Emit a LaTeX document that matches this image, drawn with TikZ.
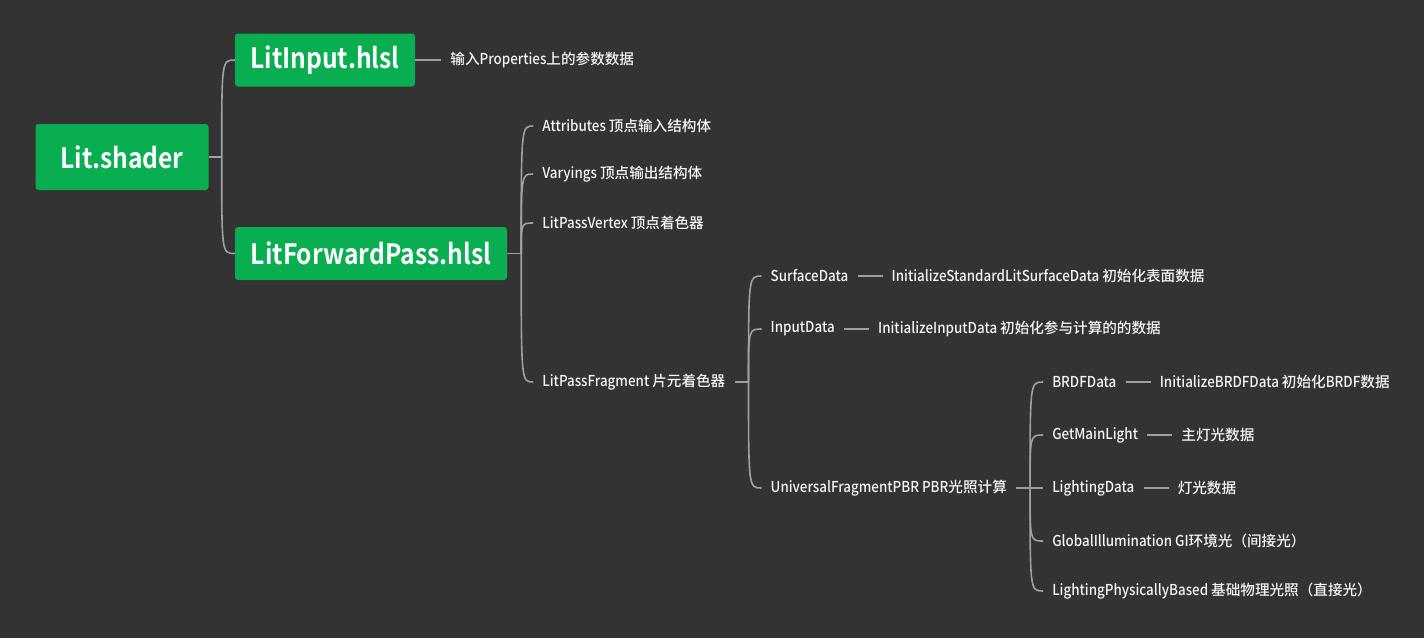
\documentclass[tikz,border=0pt]{standalone}
\usepackage{fontspec}
\setmainfont{Noto Sans CJK SC}[BoldFont={Noto Sans CJK SC Bold}]
\newfontfamily\mittel{Noto Sans CJK SC Medium}
\newfontfamily\latein{Noto Sans CJK SC Medium}[FakeStretch=0.89,Scale=1.03]
\newfontfamily\dick{Noto Sans CJK SC Bold}[FakeStretch=0.88]
\newcommand{\lati}[1]{{\latein #1}}
\usepackage{tikz}
\usetikzlibrary{positioning}
\definecolor{hintergrund}{RGB}{51,51,51}
\definecolor{gruen}{RGB}{8,174,80}
\definecolor{linie}{RGB}{160,160,160}
\definecolor{schrift}{RGB}{244,244,244}

\begin{document}
\begin{tikzpicture}[x=1pt,y=-1pt]
      \tikzset{
        datei/.style={rectangle, rounded corners=3pt, fill=gruen, text=white, inner sep=0pt,
                      minimum height=53pt, font=\fontsize{28}{32}\selectfont\dick},
        punkt/.style={text=schrift, inner xsep=9pt, inner ysep=2pt,
                      font=\fontsize{14.6}{17}\selectfont\mittel},
        ast/.style={draw=linie, line width=1.6pt}
      }

      \fill[hintergrund] (0,0) rectangle (1424,638);
      \useasboundingbox (0,0) rectangle (1424,638);

      % Dateien
      \node[datei, minimum width=173pt, minimum height=66pt] (shader) at (122,157) {Lit.shader};
      \node[datei, minimum width=180pt] (input) at (325,60) {LitInput.hlsl};
      \node[datei, minimum width=272pt] (forward) at (371,253.5) {LitForwardPass.hlsl};

      \node[punkt, right=26pt of input] (inputtext) {输入\lati{Properties}上的参数数据};

      % LitForwardPass
      \coordinate (gabel2) at ([xshift=14pt]forward.east);
      \path (gabel2) ++(12,0) coordinate (g2x);
      \node[punkt, anchor=west] (attr) at (g2x |- 0,126) {\lati{Attributes }顶点输入结构体};
      \node[punkt, anchor=west] (vary) at (g2x |- 0,174) {\lati{Varyings }顶点输出结构体};
      \node[punkt, anchor=west] (vertex) at (g2x |- 0,223) {\lati{LitPassVertex }顶点着色器};
      \node[punkt, anchor=west] (frag) at (g2x |- 0,382) {\lati{LitPassFragment }片元着色器};

      % LitPassFragment
      \coordinate (gabel3) at ([xshift=14pt]frag.east);
      \path (gabel3) ++(13,0) coordinate (g3x);
      \node[punkt, anchor=west] (surf) at (g3x |- 0,276) {\lati{SurfaceData}};
      \node[punkt, anchor=west] (inp) at (g3x |- 0,329) {\lati{InputData}};
      \node[punkt, anchor=west] (pbr) at (g3x |- 0,488) {\lati{UniversalFragmentPBR PBR}光照计算};

      \node[punkt, right=25pt of surf] (surftext) {\lati{InitializeStandardLitSurfaceData }初始化表面数据};
      \node[punkt, right=25pt of inp] (inptext) {\lati{InitializeInputData }初始化参与计算的的数据};

      % UniversalFragmentPBR
      \coordinate (gabel4) at ([xshift=14pt]pbr.east);
      \path (gabel4) ++(13,0) coordinate (g4x);
      \node[punkt, anchor=west] (brdf) at (g4x |- 0,382) {\lati{BRDFData}};
      \node[punkt, anchor=west] (mainlight) at (g4x |- 0,435) {\lati{GetMainLight}};
      \node[punkt, anchor=west] (lightdata) at (g4x |- 0,488) {\lati{LightingData}};
      \node[punkt, anchor=west] (gi) at (g4x |- 0,541) {\lati{GlobalIllumination GI}环境光（间接光）};
      \node[punkt, anchor=west] (physik) at (g4x |- 0,591) {\lati{LightingPhysicallyBased }基础物理光照（直接光）};

      \node[punkt, right=25pt of brdf] (brdftext) {\lati{InitializeBRDFData }初始化\lati{BRDF}数据};
      \node[punkt, right=25pt of mainlight] (mainlighttext) {主灯光数据};
      \node[punkt, right=25pt of lightdata] (lightdatatext) {灯光数据};

      % Aeste
      \coordinate (gabel1) at ([xshift=13pt]shader.east);
      \draw[ast] (shader.east) -- (gabel1);
      \foreach \kind in {input,forward}
        \draw[ast] (gabel1) .. controls (gabel1 |- \kind.west) .. (\kind.west);
      \draw[ast] (input) -- (inputtext);

      \draw[ast] (forward.east) -- (gabel2);
      \foreach \kind in {attr,vary,vertex,frag}
        \draw[ast] (gabel2) .. controls (gabel2 |- \kind.west) .. (\kind.west);

      \draw[ast] (frag.east) -- (gabel3);
      \foreach \kind in {surf,inp,pbr}
        \draw[ast] (gabel3) .. controls (gabel3 |- \kind.west) .. (\kind.west);
      \draw[ast] (surf) -- (surftext);
      \draw[ast] (inp) -- (inptext);

      \draw[ast] (pbr.east) -- (gabel4);
      \foreach \kind in {brdf,mainlight,lightdata,gi,physik}
        \draw[ast] (gabel4) .. controls (gabel4 |- \kind.west) .. (\kind.west);
      \draw[ast] (brdf) -- (brdftext);
      \draw[ast] (mainlight) -- (mainlighttext);
      \draw[ast] (lightdata) -- (lightdatatext);

    \end{tikzpicture}
\end{document}
